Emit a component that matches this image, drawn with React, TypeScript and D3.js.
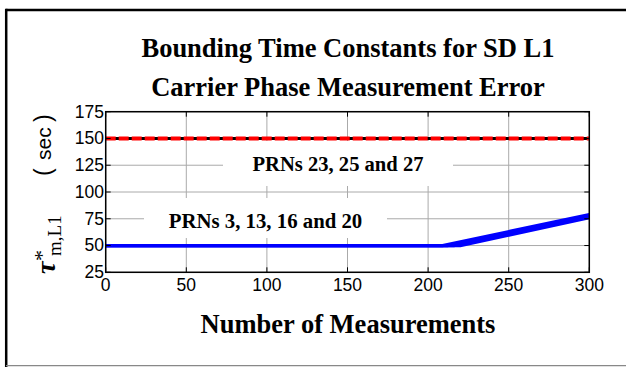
import React from "react";
import * as d3 from "d3";

const xTicks = [0, 50, 100, 150, 200, 250, 300];
const yTicks = [25, 50, 75, 100, 125, 150, 175];

// Red group (PRNs 23, 25 and 27): constant bound
const redSeries: [number, number][][] = [
  [[0, 150], [300, 150]],
];
// Blue group (PRNs 3, 13, 16 and 20): flat then rising
const blueSeries: [number, number][][] = [
  [[0, 50], [209, 50], [300, 79]],
  [[0, 50], [212, 50], [300, 78]],
  [[0, 50], [216, 50], [300, 77]],
  [[0, 50], [220, 50], [300, 76]],
];

const titleLines = ["Bounding Time Constants for SD L1", "Carrier Phase Measurement Error"];
const xLabel = "Number of Measurements";
const label1 = "PRNs 23, 25 and 27";
const label2 = "PRNs 3, 13, 16 and 20";

const W = 626;
const H = 367;
const L = 105.7, R = 589.3, T = 111.7, B = 272.3;

export default function App() {
  const x = d3.scaleLinear().domain([0, 300]).range([L, R]);
  const y = d3.scaleLinear().domain([25, 175]).range([B, T]);
  const line = d3.line<[number, number]>().x((d) => x(d[0])).y((d) => y(d[1]));
  const serif = "'Liberation Serif', 'Times New Roman', serif";
  const sans = "'Liberation Sans', Arial, sans-serif";
  const tk = 5;

  return (
    <svg width={W} height={H} style={{ position: "absolute", left: 0, top: 0, background: "#fff" }}>
      <rect x={0} y={0} width={W} height={H} fill="#fff" />
      {/* outer frame */}
      <line x1={6.2} y1={10} x2={W} y2={10} stroke="#000" strokeWidth={2.5} />
      <line x1={6.2} y1={8.8} x2={6.2} y2={H} stroke="#000" strokeWidth={2.5} />
      <line x1={6} y1={365.7} x2={W} y2={365.7} stroke="#888" strokeWidth={1.2} />

      {/* title */}
      {titleLines.map((t, i) => (
        <text key={i} x={348} y={57 + i * 39} textAnchor="middle" fontFamily={serif} fontWeight="bold" fontSize={26.5}>
          {t}
        </text>
      ))}

      {/* grid */}
      {xTicks.map((v) => (
        <line key={"gx" + v} x1={x(v)} x2={x(v)} y1={T} y2={B} stroke="#aaa" strokeWidth={1} />
      ))}
      {yTicks.map((v) => (
        <line key={"gy" + v} x1={L} x2={R} y1={y(v)} y2={y(v)} stroke="#aaa" strokeWidth={1} />
      ))}

      {/* data */}
      {blueSeries.map((s, i) => (
        <path key={"b" + i} d={line(s) || ""} fill="none" stroke="#0000ff" strokeWidth={3.2} />
      ))}
      {redSeries.map((s, i) => (
        <g key={"r" + i}>
          <path d={line(s) || ""} fill="none" stroke="#000" strokeWidth={3} />
          <path d={line(s) || ""} fill="none" stroke="#ff0000" strokeWidth={4} strokeDasharray="10,3" />
        </g>
      ))}

      {/* labels with white boxes */}
      <rect x={223} y={141} width={230} height={45} fill="#fff" />
      <text x={338} y={170.5} textAnchor="middle" fontFamily={serif} fontWeight="bold" fontSize={20.6}>
        {label1}
      </text>
      <rect x={144} y={198} width={243} height={40} fill="#fff" />
      <text x={265.5} y={227.5} textAnchor="middle" fontFamily={serif} fontWeight="bold" fontSize={20.8}>
        {label2}
      </text>

      {/* axes box */}
      <rect x={L} y={T} width={R - L} height={B - T} fill="none" stroke="#000" strokeWidth={1.5} />
      {xTicks.map((v) => (
        <g key={"tx" + v}>
          <line x1={x(v)} x2={x(v)} y1={B} y2={B - tk} stroke="#000" strokeWidth={1} />
          <line x1={x(v)} x2={x(v)} y1={T} y2={T + tk} stroke="#000" strokeWidth={1} />
          <text x={x(v)} y={291} textAnchor="middle" fontFamily={sans} fontSize={17.5}>
            {v}
          </text>
        </g>
      ))}
      {yTicks.map((v) => (
        <g key={"ty" + v}>
          <line x1={L} x2={L + tk} y1={y(v)} y2={y(v)} stroke="#000" strokeWidth={1} />
          <line x1={R} x2={R - tk} y1={y(v)} y2={y(v)} stroke="#000" strokeWidth={1} />
          <text x={104} y={y(v) + 5.8} textAnchor="end" fontFamily={sans} fontSize={17.5}>
            {v}
          </text>
        </g>
      ))}

      {/* x label */}
      <text x={348} y={333} textAnchor="middle" fontFamily={serif} fontWeight="bold" fontSize={26.5}>
        {xLabel}
      </text>

      {/* y label */}
      <g transform="translate(55,274) rotate(-90)">
        <text x={0} y={0} fontFamily={serif} fontWeight="bold" fontStyle="italic" fontSize={28}>
          τ
        </text>
        <text x={13} y={-6} fontFamily={serif} fontSize={22}>
          *
        </text>
        <text x={18} y={6} fontFamily={serif} fontSize={19}>
          m,L1
        </text>
        <text x={98} y={-4} fontFamily={sans} fontSize={23}>
          (
        </text>
        <text x={114} y={-4} fontFamily={sans} fontSize={21}>
          sec
        </text>
        <text x={152} y={-4} fontFamily={sans} fontSize={23}>
          )
        </text>
      </g>
    </svg>
  );
}
